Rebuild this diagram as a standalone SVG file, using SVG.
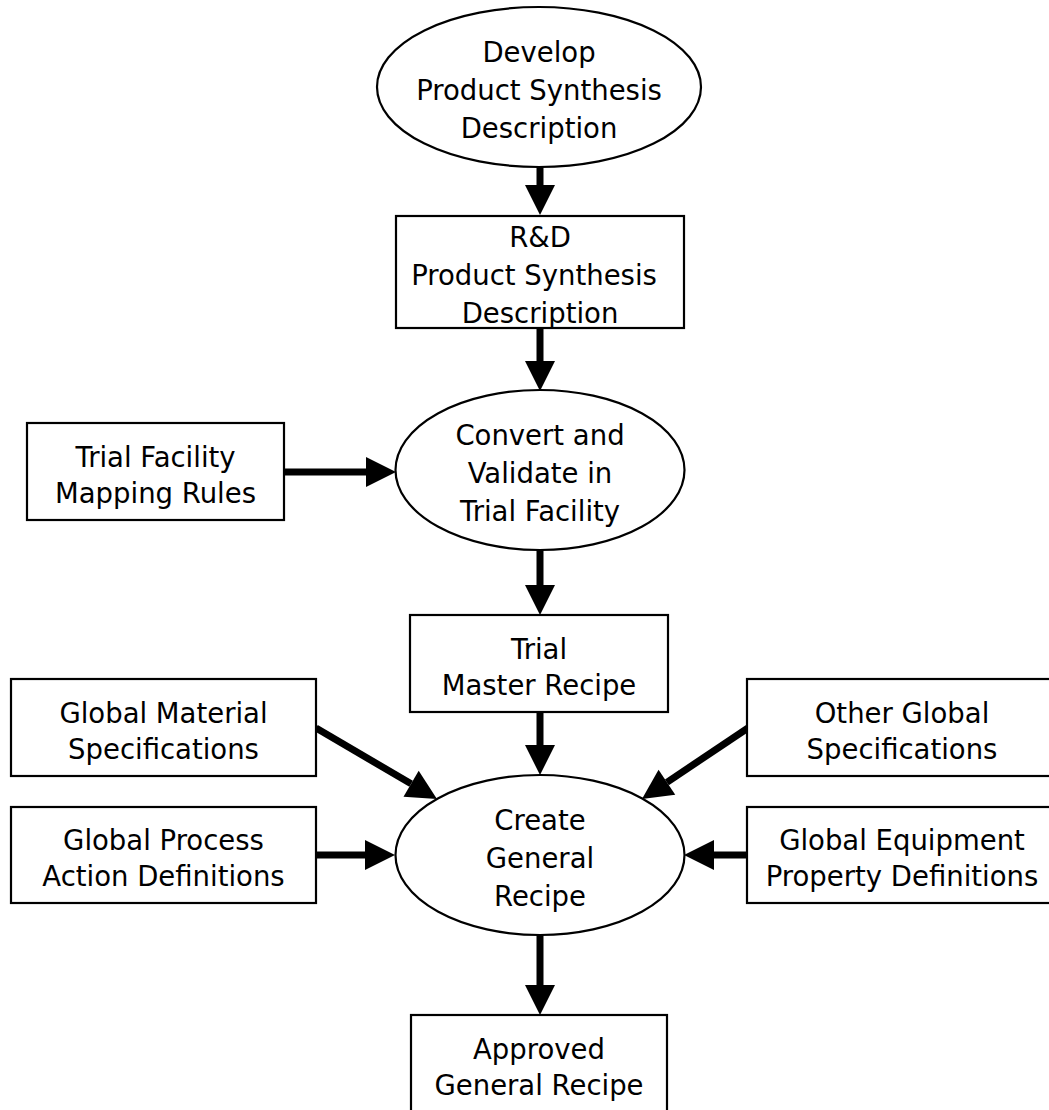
<svg xmlns="http://www.w3.org/2000/svg" width="1049" height="1110" viewBox="0 0 1049 1110">
<style>
.shape{fill:#fff;stroke:#000;stroke-width:2.2}
.lbl{font-family:"DejaVu Sans",Verdana,sans-serif;font-size:27.5px;fill:#000;text-anchor:middle}
.conn{stroke:#000;stroke-width:7;fill:none}
</style>
<defs>
<marker id="ah" markerUnits="userSpaceOnUse" markerWidth="30" markerHeight="30" refX="0" refY="15" orient="auto" overflow="visible">
<path d="M0,0 L30,15 L0,30 Z" fill="#000"/>
</marker>
</defs>
<rect width="1049" height="1110" fill="#fff"/>
<g id="connectors">
<line class="conn" x1="540" y1="167" x2="540" y2="185" marker-end="url(#ah)"/>
<line class="conn" x1="540" y1="328" x2="540" y2="361" marker-end="url(#ah)"/>
<line class="conn" x1="540" y1="550" x2="540" y2="585" marker-end="url(#ah)"/>
<line class="conn" x1="540" y1="712" x2="540" y2="745" marker-end="url(#ah)"/>
<line class="conn" x1="540" y1="935" x2="540" y2="985" marker-end="url(#ah)"/>
<line class="conn" x1="284" y1="472" x2="366" y2="472" marker-end="url(#ah)"/>
<line class="conn" x1="316" y1="855" x2="365" y2="855" marker-end="url(#ah)"/>
<line class="conn" x1="747" y1="855" x2="714" y2="855" marker-end="url(#ah)"/>
<line class="conn" x1="316" y1="728" x2="411.1" y2="783.8" marker-end="url(#ah)"/>
<line class="conn" x1="748" y1="728" x2="666.9" y2="782.3" marker-end="url(#ah)"/>
</g>
<g id="develop">
<ellipse class="shape" cx="539" cy="87" rx="162" ry="80"/>
<text class="lbl" x="539" y="62">Develop</text>
<text class="lbl" x="539" y="100">Product Synthesis</text>
<text class="lbl" x="539" y="138">Description</text>
</g>
<g id="rd">
<rect class="shape" x="396" y="216" width="288" height="112"/>
<text class="lbl" x="540" y="247">R&amp;D</text>
<text class="lbl" x="534" y="285">Product Synthesis</text>
<text class="lbl" x="540" y="323">Description</text>
</g>
<g id="convert">
<ellipse class="shape" cx="540" cy="470" rx="144.5" ry="80"/>
<text class="lbl" x="540" y="445">Convert and</text>
<text class="lbl" x="540" y="483">Validate in</text>
<text class="lbl" x="540" y="521">Trial Facility</text>
</g>
<g id="mapping">
<rect class="shape" x="27" y="423" width="257" height="97"/>
<text class="lbl" x="155.5" y="466.5">Trial Facility</text>
<text class="lbl" x="155.5" y="502.5">Mapping Rules</text>
</g>
<g id="trialmaster">
<rect class="shape" x="410" y="615" width="258" height="97"/>
<text class="lbl" x="539" y="658.5">Trial</text>
<text class="lbl" x="539" y="694.5">Master Recipe</text>
</g>
<g id="material">
<rect class="shape" x="11" y="679" width="305" height="97"/>
<text class="lbl" x="163.5" y="722.5">Global Material</text>
<text class="lbl" x="163.5" y="758.5">Specifications</text>
</g>
<g id="process">
<rect class="shape" x="11" y="807" width="305" height="96"/>
<text class="lbl" x="163.5" y="850">Global Process</text>
<text class="lbl" x="163.5" y="886">Action Definitions</text>
</g>
<g id="other">
<rect class="shape" x="747" y="679" width="310" height="97"/>
<text class="lbl" x="902" y="722.5">Other Global</text>
<text class="lbl" x="902" y="758.5">Specifications</text>
</g>
<g id="equipment">
<rect class="shape" x="747" y="807" width="310" height="96"/>
<text class="lbl" x="902" y="850">Global Equipment</text>
<text class="lbl" x="902" y="886">Property Definitions</text>
</g>
<g id="create">
<ellipse class="shape" cx="540" cy="855" rx="144.5" ry="80"/>
<text class="lbl" x="540" y="830">Create</text>
<text class="lbl" x="540" y="868">General</text>
<text class="lbl" x="540" y="906">Recipe</text>
</g>
<g id="approved">
<rect class="shape" x="411" y="1015" width="256" height="97"/>
<text class="lbl" x="539" y="1058.5">Approved</text>
<text class="lbl" x="539" y="1094.5">General Recipe</text>
</g>
</svg>
